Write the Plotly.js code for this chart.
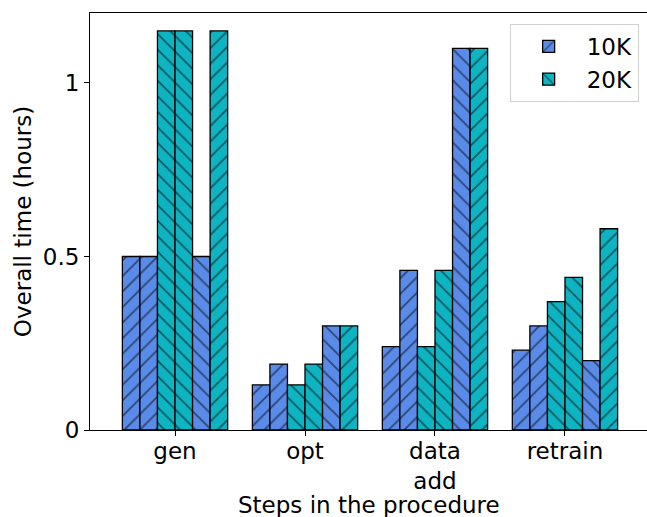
<!DOCTYPE html>
<html>
<head>
<meta charset="utf-8">
<script src="https://cdn.plot.ly/plotly-3.0.1.min.js"></script>
<style>html,body{margin:0;padding:0;background:#fff;}#chart{width:647px;height:517px;}</style>
</head>
<body>
<div id="chart"></div>
<script>
var categories = ['gen', 'opt', 'data<br>add', 'retrain'];
var bar1_10K = [0.50, 0.13, 0.24, 0.23];
var bar2_10K = [0.50, 0.19, 0.46, 0.30];
var bar3_20K = [1.15, 0.13, 0.24, 0.37];
var bar4_20K = [1.15, 0.19, 0.46, 0.44];
var bar5_10K = [0.50, 0.30, 1.10, 0.20];
var bar6_20K = [1.15, 0.30, 1.10, 0.58];
var seriesNames = ['10K', '20K'];
var yTickVals = [0, 0.5, 1];
var yTickText = ['0', '0.5', '1'];
var xTitle = 'Steps in the procedure';
var yTitle = 'Overall time (hours)';

var BLUE = '#5a8be8';
var TEAL = '#0fb4c2';

function mk(vals, color, shape, name, showleg) {
  return {
    type: 'bar', x: categories, y: vals, name: name, showlegend: showleg,
    legendgroup: name,
    marker: {
      color: color,
      line: {color: '#000', width: 1.3},
      pattern: {shape: shape, fgcolor: '#000', bgcolor: color, size: 11, solidity: 0.16, fillmode: 'overlay'}
    },
    hoverinfo: 'skip'
  };
}

var traces = [
  mk(bar1_10K, BLUE, '/', seriesNames[0], true),
  mk(bar2_10K, BLUE, '/', seriesNames[0], false),
  mk(bar3_20K, TEAL, '\\', seriesNames[1], true),
  mk(bar4_20K, TEAL, '\\', seriesNames[1], false),
  mk(bar5_10K, BLUE, '\\', seriesNames[0], false),
  mk(bar6_20K, TEAL, '/', seriesNames[1], false)
];

var F = 'DejaVu Sans, sans-serif';
var layout = {
  width: 647, height: 517,
  margin: {l: 90, r: 0, t: 13, b: 87},
  paper_bgcolor: '#fff', plot_bgcolor: '#fff',
  font: {family: F, size: 23, color: '#000'},
  barmode: 'group', bargap: 0.19, bargroupgap: 0,
  showlegend: true,
  legend: {
    x: 0.985, y: 0.974, xanchor: 'right', yanchor: 'top',
    bgcolor: 'rgba(255,255,255,0.8)', bordercolor: '#d0d0d0', borderwidth: 1,
    font: {family: F, size: 23}, traceorder: 'normal', itemwidth: 66, tracegroupgap: 4
  },
  xaxis: {
    type: 'category', range: [-0.654, 3.631],
    showline: true, linecolor: '#000', linewidth: 1, mirror: true,
    ticks: 'outside', ticklen: 5, tickcolor: '#000', showgrid: false, zeroline: false,
    tickfont: {family: F, size: 23}, ticklabelstandoff: -5,
    title: {text: ''}
  },
  yaxis: {
    range: [0, 1.2017],
    tickvals: yTickVals, ticktext: yTickText,
    showline: true, linecolor: '#000', linewidth: 1,
    ticks: 'outside', ticklen: 5, tickcolor: '#000', showgrid: false, zeroline: false,
    tickfont: {family: F, size: 23},
    title: {text: yTitle, font: {family: F, size: 23}, standoff: 4}
  },
  annotations: [{
    text: xTitle, xref: 'paper', yref: 'paper', x: 0.5, y: -0.18,
    xanchor: 'center', yanchor: 'middle', showarrow: false,
    font: {family: F, size: 23, color: '#000'}
  }]
};

Plotly.newPlot('chart', traces, layout, {displayModeBar: false, staticPlot: true});
</script>
</body>
</html>
